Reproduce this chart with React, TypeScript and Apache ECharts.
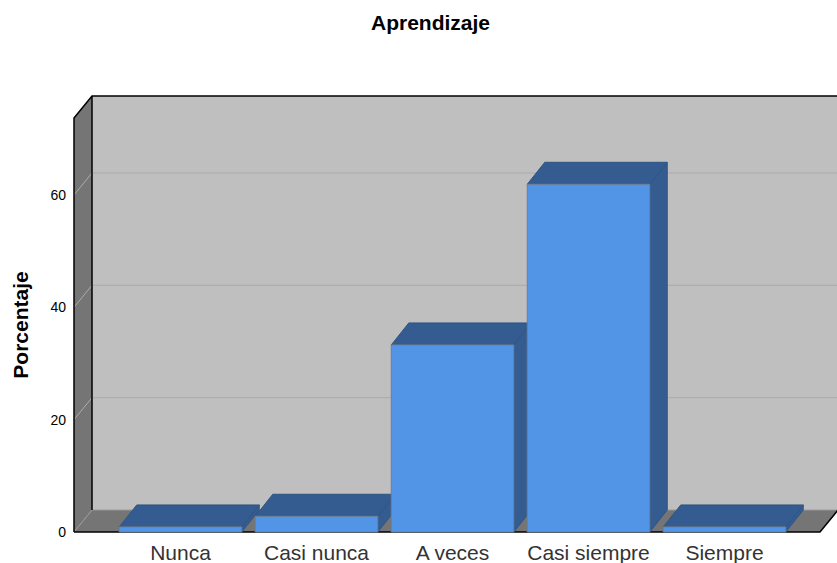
import React, { useEffect, useRef } from "react";
import * as echarts from "echarts";

const titleText = "Aprendizaje";
const yAxisName = "Porcentaje";
const categories = ["Nunca", "Casi nunca", "A veces", "Casi siempre", "Siempre"];
const percentages = [0.9, 2.8, 33.3, 61.9, 0.9];
const yTickLabels = [0, 20, 40, 60];
const yMax = 73.7;

const DX = 18;
const DY = -22;
const WALL_LEFT = 74;
const WALL_RIGHT = 820;

export default function App() {
  const ref = useRef<HTMLDivElement>(null);
  useEffect(() => {
    const chart = echarts.init(ref.current!, null, { renderer: "svg" });

    const renderWalls = (_p: any, api: any) => {
      const y0 = api.coord([0, 0])[1];
      const yT = api.coord([0, yMax])[1];
      const L = WALL_LEFT;
      const R = WALL_RIGHT;
      const children: any[] = [
        { type: "polygon", shape: { points: [[L + DX, yT + DY], [R + DX + 40, yT + DY], [R + DX + 40, y0 + DY], [L + DX, y0 + DY]] }, style: { fill: "#bfbfbf" } },
        { type: "polygon", shape: { points: [[L, yT], [L + DX, yT + DY], [L + DX, y0 + DY], [L, y0]] }, style: { fill: "#757575" } },
        { type: "polygon", shape: { points: [[L, y0], [L + DX, y0 + DY], [R + DX, y0 + DY], [R, y0]] }, style: { fill: "#757575" } },
      ];
      yTickLabels.forEach((v) => {
        const y = api.coord([0, v])[1];
        children.push({
          type: "polyline",
          shape: { points: [[L, y], [L + DX, y + DY], [R + DX + 40, y + DY]] },
          style: { stroke: v === 0 ? "#9a9a9a" : "#ababab", lineWidth: 1, fill: "none" },
        });
      });
      children.push(
        { type: "polyline", shape: { points: [[L, y0], [L, yT], [L + DX, yT + DY], [R + DX + 40, yT + DY]] }, style: { stroke: "#000", lineWidth: 1.5, fill: "none" } },
        { type: "line", shape: { x1: L + DX, y1: yT + DY, x2: L + DX, y2: y0 + DY }, style: { stroke: "#000", lineWidth: 1.5 } },
        { type: "polyline", shape: { points: [[L, y0], [R, y0], [R + DX, y0 + DY]] }, style: { stroke: "#000", lineWidth: 1.5, fill: "none" } }
      );
      return { type: "group", children };
    };

    const renderBar = (_p: any, api: any) => {
      const idx = api.value(0);
      const val = api.value(1);
      const [cx, yTop] = api.coord([idx, val]);
      const y0 = api.coord([idx, 0])[1];
      const w = api.size([1, 0])[0] * (122.5 / 136);
      const l = cx - w / 2;
      const r = cx + w / 2;
      const edge = { stroke: "#6f7f92", lineWidth: 1 };
      const dark = { fill: "#355c90", stroke: "#2f5583", lineWidth: 1 };
      return {
        type: "group",
        children: [
          { type: "polygon", shape: { points: [[r, yTop], [r + DX - 0.5, yTop + DY], [r + DX - 0.5, y0 + DY], [r, y0]] }, style: dark },
          { type: "polygon", shape: { points: [[l, yTop], [l + DX - 0.5, yTop + DY], [r + DX - 0.5, yTop + DY], [r, yTop]] }, style: dark },
          { type: "polygon", shape: { points: [[l, yTop], [r, yTop], [r, y0], [l, y0]] }, style: { fill: "#5294e6", ...edge } },
        ],
      };
    };

    chart.setOption({
      animation: false,
      backgroundColor: "#ffffff",
      title: {
        text: titleText,
        left: 425.5,
        top: 7,
        textAlign: "center",
        textStyle: { fontFamily: "Liberation Sans", fontSize: 21, fontWeight: "bold", color: "#000" },
      },
      grid: { left: 112.5, width: 680, top: 118, bottom: 31, containLabel: false, outerBoundsMode: "none" },
      xAxis: {
        type: "category",
        data: categories,
        axisLine: { show: false },
        axisTick: { show: false },
        axisLabel: { interval: 0, margin: 10, fontFamily: "Liberation Sans", fontSize: 21, color: "#333333" },
      },
      yAxis: {
        type: "value",
        min: 0,
        max: yMax,
        offset: 38.5,
        name: yAxisName,
        nameLocation: "middle",
        nameGap: 43,
        nameTextStyle: { fontFamily: "Liberation Sans", fontSize: 21, fontWeight: "bold", color: "#000" },
        axisLine: { show: false },
        axisTick: { show: false },
        splitLine: { show: false },
        axisLabel: { customValues: yTickLabels, margin: 8, padding: [4, 0, 0, 0], fontFamily: "Liberation Sans", fontSize: 14, color: "#000" },
      },
      series: [
        { type: "custom", renderItem: renderWalls, data: [[0, 0]], encode: { x: 0, y: 1 }, silent: true, z: 1, clip: false },
        { type: "custom", renderItem: renderBar, data: percentages.map((v, i) => [i, v]), encode: { x: 0, y: 1 }, silent: true, z: 2, clip: false },
      ],
    });
    return () => chart.dispose();
  }, []);
  return <div ref={ref} style={{ position: "absolute", left: 0, top: 0, width: 837, height: 563 }} />;
}
